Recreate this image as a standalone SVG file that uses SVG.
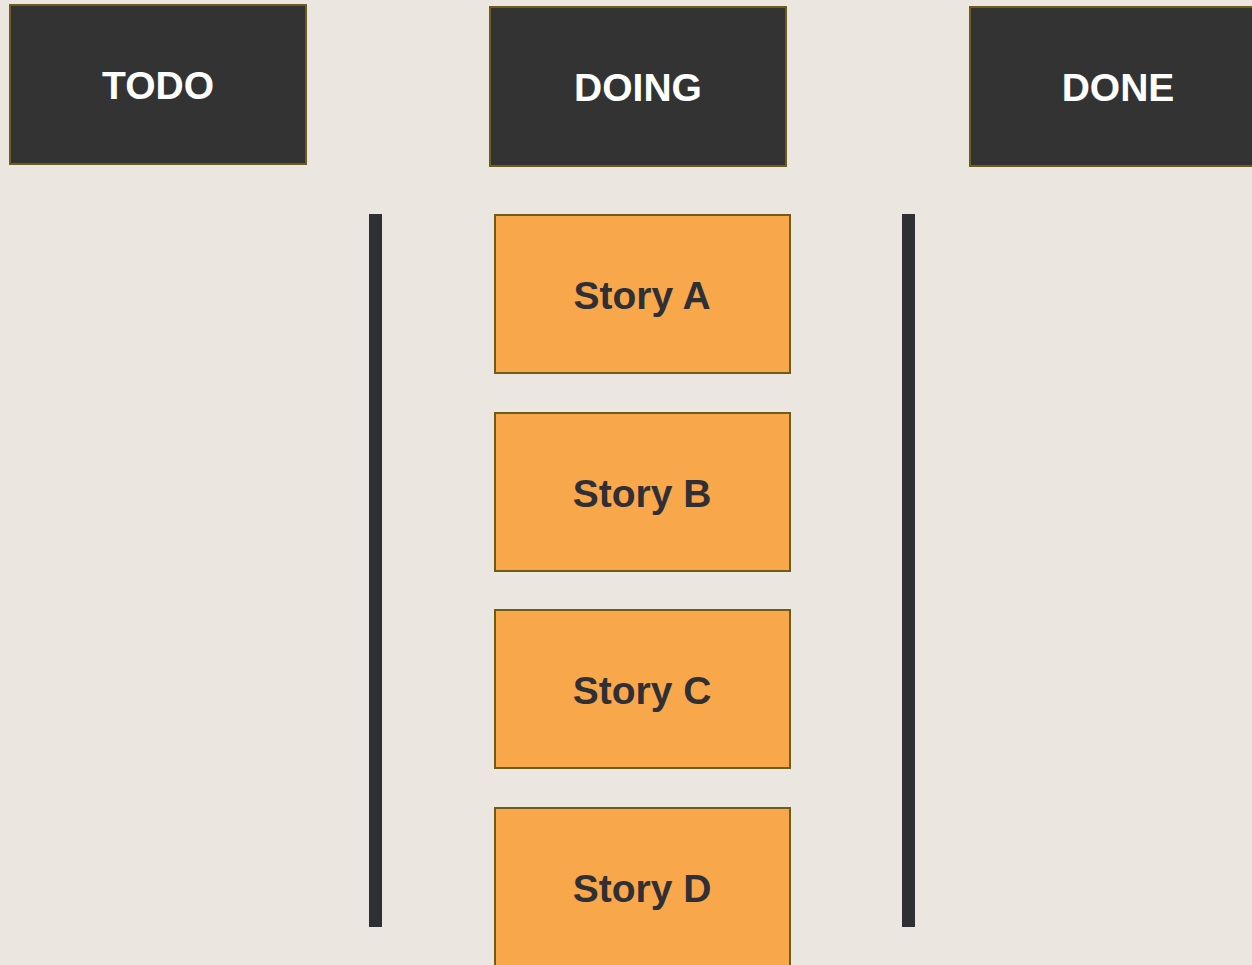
<svg xmlns="http://www.w3.org/2000/svg" width="1252" height="965" viewBox="0 0 1252 965">
<style>
.hdr rect{fill:#333333;stroke:#6e5c1c;stroke-width:2}
.hdr text{fill:#ffffff;font-family:"Liberation Sans",Arial,sans-serif;font-weight:bold;font-size:39px;text-anchor:middle}
.story rect{fill:#f8a84b;stroke:#6e5c1c;stroke-width:2}
.story text{fill:#2f2f36;font-family:"Liberation Sans",Arial,sans-serif;font-weight:bold;font-size:39px;text-anchor:middle}
.bar{fill:#2f2f36}
</style>
<rect width="1252" height="965" fill="#ebe6e0"/>
<g id="todo" class="hdr"><rect x="10" y="5" width="296" height="159"/><text x="158" y="99">TODO</text></g>
<g id="doing" class="hdr"><rect x="490" y="7" width="296" height="159"/><text x="638" y="101">DOING</text></g>
<g id="done" class="hdr"><rect x="970" y="7" width="296" height="159"/><text x="1118" y="101">DONE</text></g>
<g id="connectors">
<rect class="bar" x="369" y="214" width="13" height="713"/>
<rect class="bar" x="902" y="214" width="13" height="713"/>
</g>
<g id="storyA" class="story"><rect x="495" y="215" width="295" height="158"/><text x="642" y="309">Story A</text></g>
<g id="storyB" class="story"><rect x="495" y="413" width="295" height="158"/><text x="642" y="507">Story B</text></g>
<g id="storyC" class="story"><rect x="495" y="610" width="295" height="158"/><text x="642" y="704">Story C</text></g>
<g id="storyD" class="story"><rect x="495" y="808" width="295" height="170"/><text x="642" y="902">Story D</text></g>
</svg>
